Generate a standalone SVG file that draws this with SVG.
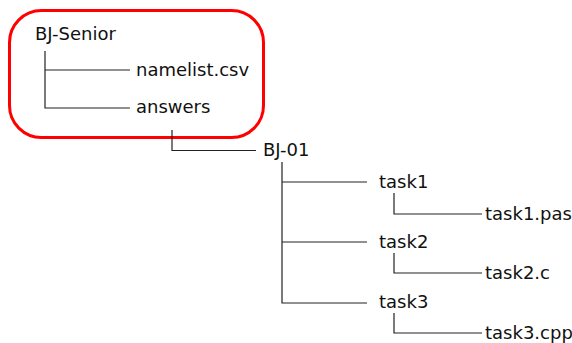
<svg xmlns="http://www.w3.org/2000/svg" width="572" height="343" viewBox="0 0 572 343">
<style>
text{font-family:"DejaVu Sans",Verdana,sans-serif;font-size:18px;fill:#111}
.c{stroke:#222;stroke-width:1.2;fill:none}
.hl{stroke:#f00;stroke-width:3;fill:none}
</style>
<rect width="572" height="343" fill="#fff"/>
<g id="highlight"><rect class="hl" x="9.5" y="10.5" width="254" height="127" rx="32" ry="32"/></g>
<g id="connectors">
<path class="c" d="M45 51V108H130M45 70H130"/>
<path class="c" d="M172 130V150.5H256"/>
<path class="c" d="M282 162V303H367M282 182H367M282 242H367"/>
<path class="c" d="M394 193V214H482M394 253V273H482M394 313V333H482"/>
</g>
<g id="bj-senior"><text x="35" y="40">BJ-Senior</text></g>
<g id="namelist"><text x="136" y="76">namelist.csv</text></g>
<g id="answers"><text x="136" y="113">answers</text></g>
<g id="bj-01"><text x="263" y="156">BJ-01</text></g>
<g id="task1"><text x="379" y="188">task1</text></g>
<g id="task1pas"><text x="485" y="220">task1.pas</text></g>
<g id="task2"><text x="379" y="248">task2</text></g>
<g id="task2c"><text x="485" y="279">task2.c</text></g>
<g id="task3"><text x="379" y="308">task3</text></g>
<g id="task3cpp"><text x="485" y="339">task3.cpp</text></g>
</svg>
